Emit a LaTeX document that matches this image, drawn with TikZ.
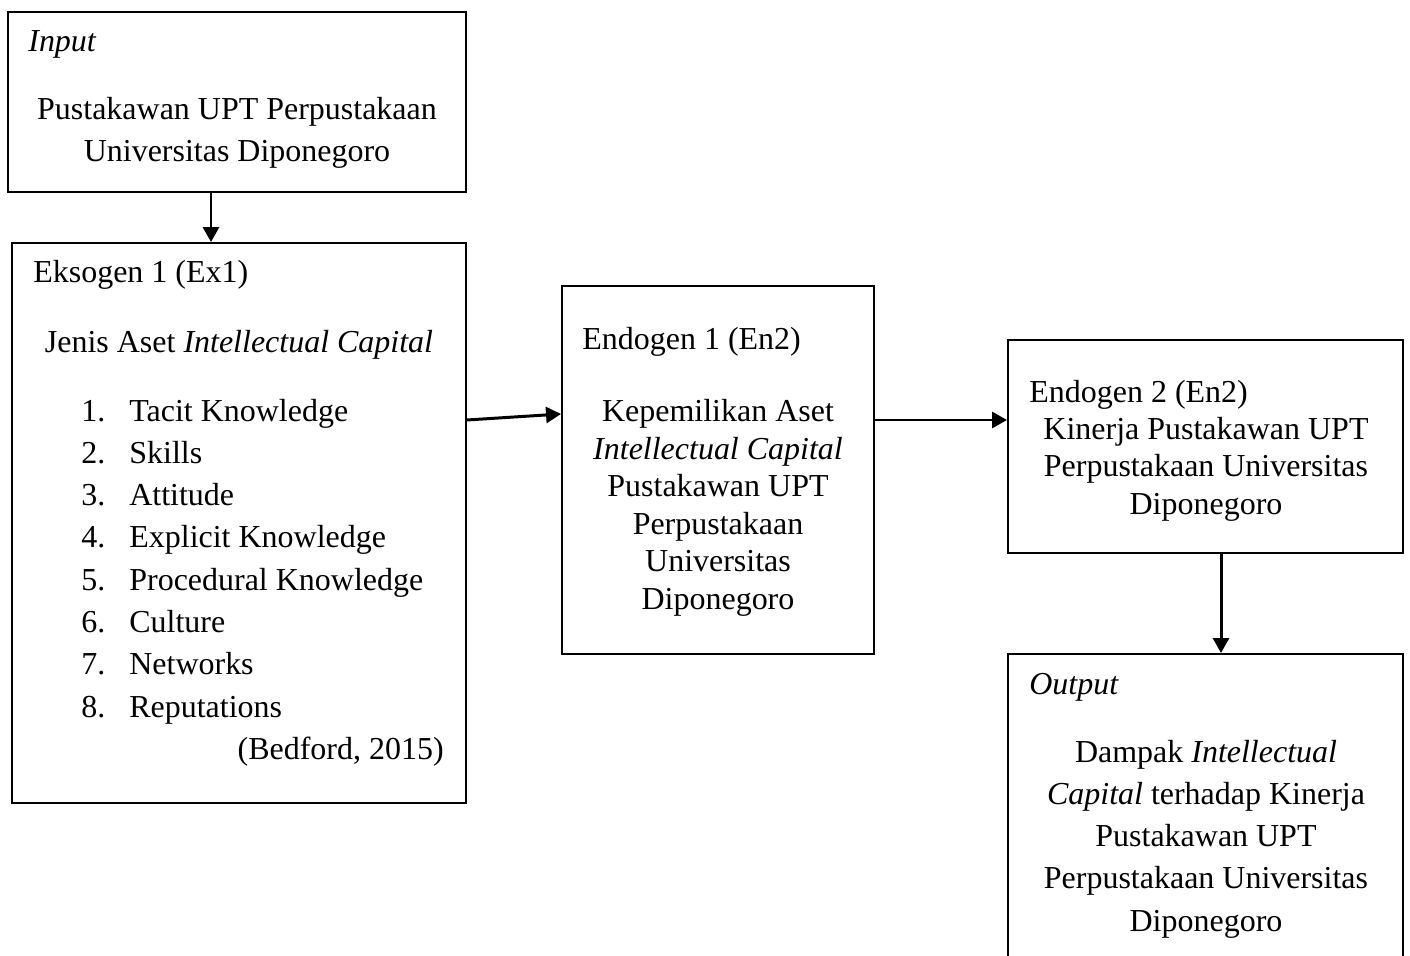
\documentclass[tikz,border=0pt]{standalone}
\usepackage{fontspec}
\setmainfont{Liberation Serif}
\usetikzlibrary{arrows.meta,fit,positioning}
\tikzset{
  box/.style={draw, line width=1.1pt, inner sep=0pt},
  txt/.style={inner sep=0pt, font=\fontsize{18.2}{24}\selectfont},
  arr/.style={line width=1.7pt, -{Triangle[length=0.3cm,width=0.32cm]}}
}

\begin{document}
\begin{tikzpicture}[x=0.02cm,y=-0.02cm]
\clip (0,0) rectangle (1410,956);
% boxes
\node[box, fit={(8,12) (466,192)}] (inp) {};
\node[box, fit={(12,243) (466,803)}] (ex) {};
\node[box, fit={(562,286) (874,654)}] (en1) {};
\node[box, fit={(1008,340) (1403,553)}] (en2) {};
\node[box, fit={(1008,654) (1403,980)}] (out) {};

% input
\node[txt, anchor=base west] (inptitle) at (28,52) {\textit{Input}};
\node[txt, anchor=base, align=center] (inpbody) at (237,162) {Pustakawan UPT Perpustakaan\\Universitas Diponegoro};

% eksogen 1
\node[txt, anchor=base west] (extitle) at (33,283) {Eksogen 1 (Ex1)};
\node[txt, anchor=base] (exsub) at (239,352) {Jenis Aset \textit{Intellectual Capital}};
\foreach \i/\t in {1/Tacit Knowledge,2/Skills,3/Attitude,4/Explicit Knowledge,5/Procedural Knowledge,6/Culture,7/Networks,8/Reputations}{
  \node[txt, anchor=base west] (num\i) at (81,{421+42.3*(\i-1)}) {\i.};
  \node[txt, anchor=base west] (item\i) at (129,{421+42.3*(\i-1)}) {\t};
}
\node[txt, anchor=base east] (excite) at (444,759) {(Bedford, 2015)};

% endogen 1
\node[txt, anchor=base west] (en1title) at (582,349) {Endogen 1 (En2)};
\node[txt, anchor=base, align=center, font=\fontsize{18.2}{21.3}\selectfont] (en1body) at (718,609) {Kepemilikan Aset\\\textit{Intellectual Capital}\\Pustakawan UPT\\Perpustakaan\\Universitas\\Diponegoro};

% endogen 2
\node[txt, anchor=base west] (en2title) at (1029,402) {Endogen 2 (En2)};
\node[txt, anchor=base, align=center, font=\fontsize{18.2}{21.3}\selectfont] (en2body) at (1206,514) {Kinerja Pustakawan UPT\\Perpustakaan Universitas\\Diponegoro};

% output
\node[txt, anchor=base west] (outtitle) at (1029,694) {\textit{Output}};
\node[txt, anchor=base, align=center] (outbody) at (1206,931) {Dampak \textit{Intellectual}\\\textit{Capital} terhadap Kinerja\\Pustakawan UPT\\Perpustakaan Universitas\\Diponegoro};

% arrows
\draw[arr] (inp.south -| 211,0) -- (ex.north -| 211,0);
\draw[arr] (ex.east |- 0,420) -- (en1.west |- 0,414);
\draw[arr] (en1.east |- 0,420) -- (en2.west |- 0,420);
\draw[arr] (en2.south -| 1221,0) -- (out.north -| 1221,0);
\end{tikzpicture}
\end{document}
